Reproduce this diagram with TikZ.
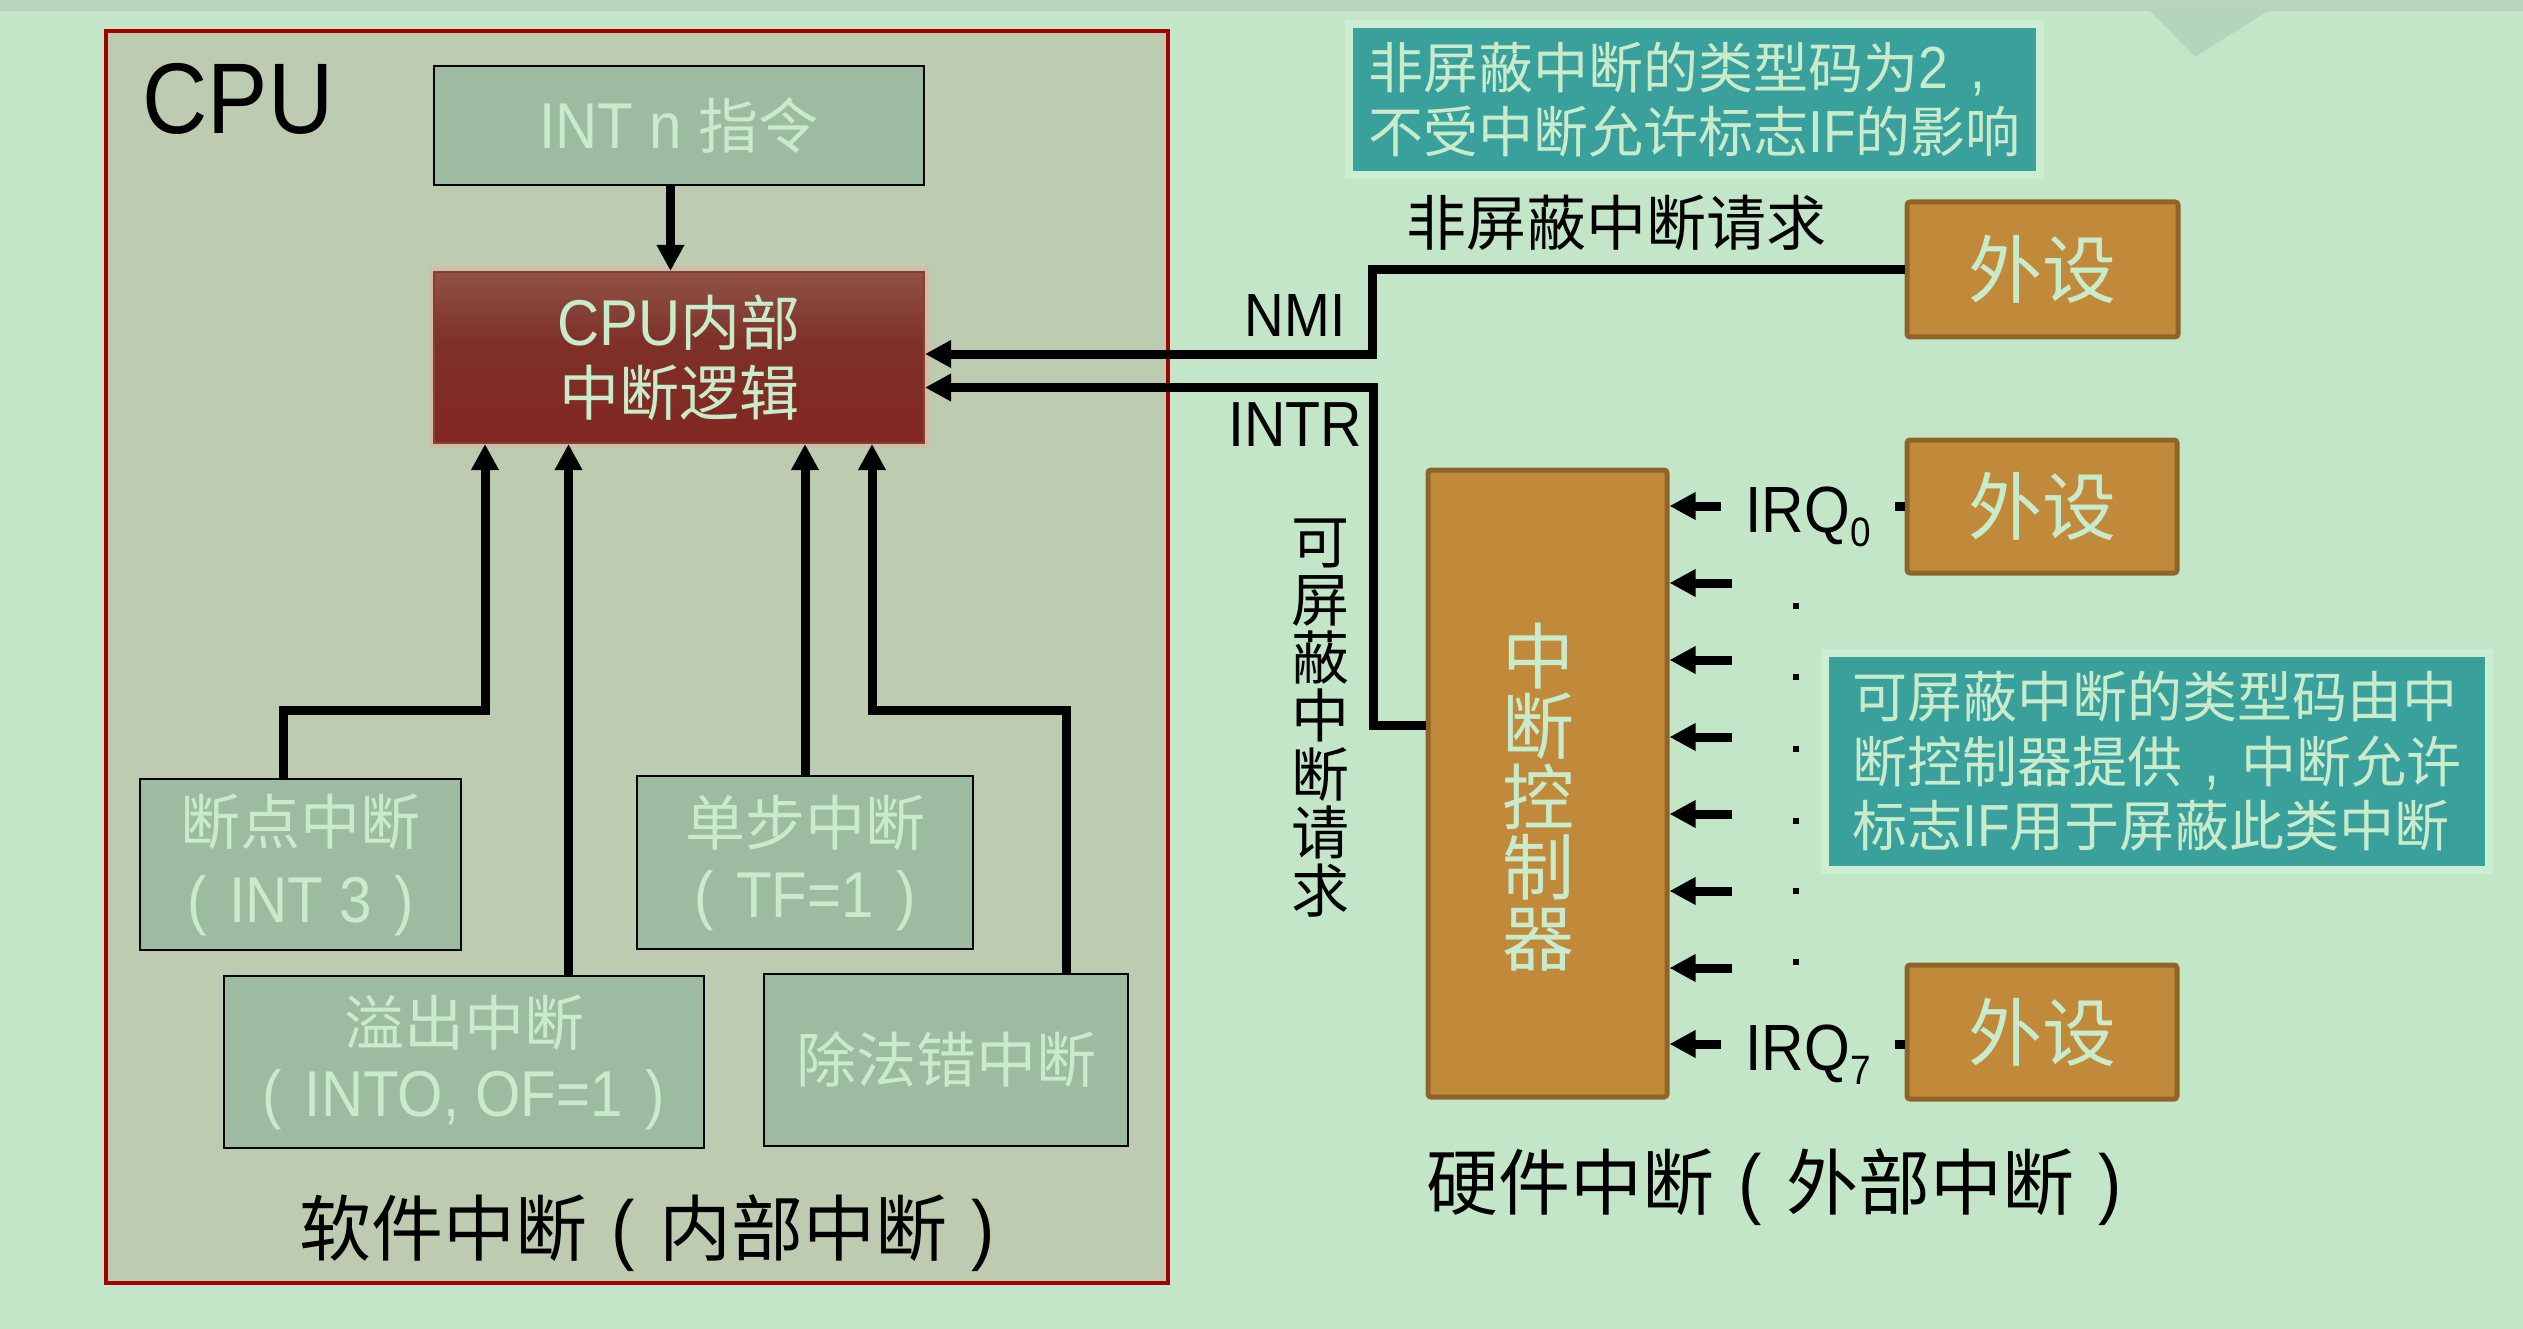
\documentclass[tikz,border=0pt]{standalone}
\usepackage{fontspec}
\setmainfont{Liberation Sans}[Scale=1.08, FakeStretch=0.9]
\newfontfamily\cjk{Noto Sans CJK SC}
\usetikzlibrary{arrows.meta}

\newcommand\fsz[2]{\fontsize{#1}{#2}\selectfont}
\newcommand\zh[1]{{\cjk #1}}
% full-width punctuation with the glyph centred in its cell
\newcommand\lp{\makebox[1em]{\normalfont(}}
\newcommand\rp{\makebox[1em]{\normalfont)}}
\newcommand\cm{\makebox[1em]{\normalfont,}}

\definecolor{bgc}{HTML}{C3E6C8}
\definecolor{bandc}{HTML}{B7D5BB}
\definecolor{decorc}{HTML}{A6C2AC}
\definecolor{cpufill}{HTML}{BDCCB0}
\definecolor{cpuline}{HTML}{A30000}
\definecolor{boxfill}{HTML}{9DBBA0}
\definecolor{paletxt}{HTML}{C8EBCC}
\definecolor{gold}{HTML}{C18A3B}
\definecolor{goldline}{HTML}{8F6428}
\definecolor{tealc}{HTML}{3AA09C}
\definecolor{glowc}{HTML}{CBEDD1}
\definecolor{halo}{HTML}{D6B9A6}
\definecolor{lgline}{HTML}{8A3D33}
\definecolor{lgTop}{HTML}{A97E6B}
\definecolor{lgMid}{HTML}{7E3128}
\definecolor{lgLow}{HTML}{84231E}
\definecolor{lgBot}{HTML}{A72C25}

\pgfdeclareverticalshading{logicshade}{100bp}{color(0bp)=(lgBot); color(12bp)=(lgLow); color(55bp)=(lgMid); color(100bp)=(lgTop)}

\tikzset{
  wire/.style={line width=9pt, line join=miter},
  arr/.style={wire, -{Triangle[length=26pt,width=26pt]}},
  cpubox/.style={draw=cpuline, fill=cpufill, line width=4pt, inner sep=0pt},
  softbox/.style={draw=black, fill=boxfill, line width=2.5pt, inner sep=0pt,
    text=paletxt, align=center, font=\fsz{60}{75}},
  logicbox/.style={preaction={draw=halo, line width=10pt, opacity=0.7},
    shade, shading=logicshade, draw=lgline, line width=2pt,
    text=paletxt, align=center, inner sep=0pt},
  golden/.style={fill=gold, draw=goldline, line width=5pt, rounded corners=3pt,
    inner sep=0pt, text=paletxt},
  tealbox/.style={preaction={draw=glowc, line width=16pt, rounded corners=4pt},
    fill=tealc, text=paletxt, align=left, inner sep=0pt},
  lbl/.style={inner sep=0pt, text=black},
  irq/.style={inner ysep=0pt, inner xsep=24pt, text height=52pt, text depth=0pt,
    font=\fsz{60.5}{60.5}},
  dotmark/.style={fill=black, inner sep=0pt, minimum size=6pt, rectangle},
}

\begin{document}
\begin{tikzpicture}[x=1pt, y=-1pt]
  % page background
  \fill[bgc] (0,0) rectangle (2523,1329);
  \useasboundingbox (0,0) rectangle (2523,1329);
  \fill[bandc] (0,0) rectangle (2523,11);
  \fill[decorc, opacity=0.45] (2150,11) -- (2268,11) -- (2195,57) -- cycle;

  % ---------- CPU side ----------
  \node[cpubox, minimum width=1062pt, minimum height=1252pt] (cpu) at (637,657) {};
  \node[lbl, font=\fsz{93}{93}] (cpulbl) at (238,99) {CPU};

  \node[softbox, minimum width=490pt, minimum height=119pt] (intn) at (679,125.5)
    {INT n \zh{指令}};
  \node[logicbox, minimum width=490pt, minimum height=171pt, font=\fsz{60}{70.5}]
    (logic) at (679,357.5) {CPU\zh{内部}\\\zh{中断逻辑}};

  \node[softbox, minimum width=321pt, minimum height=171pt, font=\fsz{60}{78}]
    (bp) at (300.5,864.5) {\zh{断点中断}\\\lp INT 3\rp};
  \node[softbox, minimum width=336pt, minimum height=173pt, font=\fsz{60}{72}]
    (ss) at (805,862.5) {\zh{单步中断}\\\lp TF=1\rp};
  \node[softbox, minimum width=480pt, minimum height=172pt, font=\fsz{60}{71}]
    (of) at (464,1062) {\zh{溢出中断}\\\lp INTO, OF=1\rp};
  \node[softbox, minimum width=364pt, minimum height=172pt]
    (de) at (946,1060) {\zh{除法错中断}};

  \node[lbl, font=\fsz{72}{72}\cjk] (swlbl) at (659,1233) {软件中断\lp 内部中断\rp};

  % connectors inside the CPU
  \draw[arr] ([xshift=-8.5pt]intn.south) -- ([xshift=-8.5pt]logic.north);
  \draw[arr] ([xshift=-17.5pt]bp.north) -- ++(0,-67) -| ([xshift=-194pt]logic.south);
  \draw[arr] ([xshift=104.5pt]of.north) -- ([xshift=104.5pt]of.north |- logic.south);
  \draw[arr] (ss.north) -- (ss.north |- logic.south);
  \draw[arr] ([xshift=120pt]de.north) -- ++(0,-262) -| ([xshift=193pt]logic.south);

  % ---------- external side ----------
  \node[tealbox, minimum width=683pt, minimum height=143pt, font=\fsz{55}{64}]
    (note1) at (1694.5,99.5)
    {\zh{非屏蔽中断的类型码为}2\cm\\\zh{不受中断允许标志}IF\zh{的影响}};

  \node[golden, minimum width=271pt, minimum height=135pt, font=\fsz{74}{74}\cjk]
    (p1) at (2042.5,269.5) {外设};
  \node[golden, minimum width=270pt, minimum height=133pt, font=\fsz{74}{74}\cjk]
    (p2) at (2042,506.5) {外设};
  \node[golden, minimum width=270pt, minimum height=134pt, font=\fsz{74}{74}\cjk]
    (p3) at (2042,1032) {外设};

  \node[golden, minimum width=239pt, minimum height=627pt] (ctrl) at (1547.5,783.5) {};
  \node[lbl, text=paletxt, font=\fsz{72}{70.6}\cjk, align=center] (ctrlt) at (1538,797)
    {中\\断\\控\\制\\器};

  \node[lbl, font=\fsz{60}{60}\cjk] (nmireq) at (1616,223) {非屏蔽中断请求};
  \node[lbl, font=\fsz{56.5}{56.5}] (nmi) at (1295,316) {NMI};
  \node[lbl, font=\fsz{59}{59}] (intr) at (1295,425) {INTR};
  \node[lbl, font=\fsz{58}{58.3}\cjk, align=center] (mreq) at (1320,718)
    {可\\屏\\蔽\\中\\断\\请\\求};

  \draw[arr] (p1.west) -- ++(-532,0) |- ([yshift=3.5pt]logic.east);
  \draw[arr] ([yshift=58.5pt]ctrl.west) -- ++(-52,0) |- ([yshift=-30pt]logic.east);

  % interrupt request lines
  \node[irq] (irq0) at (1808,506) {IRQ\smash{\raisebox{-14pt}{\fsz{38}{38}0}}};
  \node[irq] (irq7) at (1808,1044) {IRQ\smash{\raisebox{-14pt}{\fsz{38}{38}7}}};
  \draw[arr] (irq0.west) -- (irq0.west -| ctrl.east);
  \draw[wire] (irq0.east) -- (irq0.east -| p2.west);
  \draw[arr] (irq7.west) -- (irq7.west -| ctrl.east);
  \draw[wire] (irq7.east) -- (irq7.east -| p3.west);

  \foreach \k/\yy in {1/583,2/660,3/737,4/814,5/891,6/968} {
    \coordinate (tail\k) at (1732,\yy);
    \draw[arr] (tail\k) -- (tail\k -| ctrl.east);
  }
  \foreach \k/\yy in {1/606,2/677,3/749,4/821,5/891,6/962}
    \node[dotmark] (dot\k) at (1796,\yy) {};

  \node[tealbox, minimum width=656pt, minimum height=209pt, font=\fsz{55}{64.5}]
    (note2) at (2157,761.5)
    {\zh{可屏蔽中断的类型码由中}\\\zh{断控制器提供}\cm\zh{中断允许}\\\zh{标志}IF\zh{用于屏蔽此类中断}};

  \node[lbl, font=\fsz{72}{72}\cjk] (hwlbl) at (1786,1187) {硬件中断\lp 外部中断\rp};
\end{tikzpicture}
\end{document}
